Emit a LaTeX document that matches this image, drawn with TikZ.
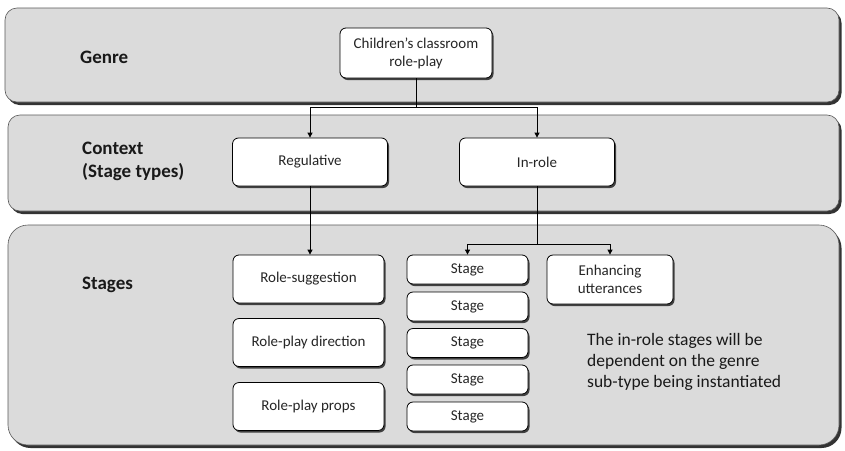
\documentclass[tikz,border=0pt]{standalone}
\usepackage{fontspec}
\setmainfont{Carlito}
\usetikzlibrary{shadows,arrows.meta}
\begin{document}
\begin{tikzpicture}[x=1pt,y=-1pt,
  band/.style={draw=gray!70!black, fill=gray!28, line width=0.6pt,
    drop shadow={shadow xshift=2.5pt, shadow yshift=-3pt, fill=black!80, opacity=1}},
  box/.style={draw=black, fill=white, rounded corners=6pt, line width=0.8pt,
    drop shadow={shadow xshift=1.5pt, shadow yshift=-2pt, fill=black!75, opacity=1},
    font=\fontsize{15}{18}\selectfont, align=center, inner sep=0pt, text=black!85},
  lab/.style={font=\fontsize{19}{23}\selectfont\bfseries, align=left, anchor=west, inner sep=0pt, text=black!90},
  conn/.style={draw=black, line width=0.8pt},
  arr/.style={conn, -{Triangle[length=5pt,width=5pt]}}]
\useasboundingbox (0,0) rectangle (845,450);
% bands
\path[band, rounded corners=12pt] (5,8) rectangle (839,102);
\path[band, rounded corners=12pt] (8,115) rectangle (839,211);
\path[band, rounded corners=20pt] (8,225) rectangle (839,445);
% band labels
\node[lab] (lgenre) at (80,57) {Genre};
\node[lab] (lcontext) at (82,161) {Context\\(Stage types)};
\node[lab] (lstages) at (82,285) {Stages};
% nodes
\node[box, minimum width=152pt, minimum height=50pt] (genre) at (416,53) {Children’s classroom\\role-play};
\node[box, minimum width=155pt, minimum height=48pt] (reg) at (310,162) {Regulative};
\node[box, minimum width=155pt, minimum height=48pt] (inrole) at (537,162) {In-role};
\node[box, minimum width=151pt, minimum height=48pt] (rs) at (308.5,279) {Role-suggestion};
\node[box, minimum width=151pt, minimum height=48pt] (rd) at (308.5,342.5) {Role-play direction};
\node[box, minimum width=151pt, minimum height=48pt] (rp) at (308.5,406.5) {Role-play props};
\foreach \i/\y in {1/269.5,2/306.5,3/343,4/379.5,5/416.5}{
  \node[box, minimum width=121pt, minimum height=29pt] (st\i) at (467.5,\y) {Stage};
}
\node[box, minimum width=126pt, minimum height=49pt] (enh) at (610,279.5) {Enhancing\\utterances};
\node[anchor=north west, align=left, inner sep=0pt, font=\fontsize{17.5}{21}\selectfont, text=black!90] (note) at (587,333)
  {The in-role stages will be\\dependent on the genre\\sub-type being instantiated};
% connectors
\coordinate (j1) at (416,107);
\draw[conn] (genre.south) -- (j1);
\draw[arr] (j1) -| (reg.north);
\draw[arr] (j1) -| (inrole.north);
\draw[arr] (reg.south) -- (reg.south |- rs.north);
\coordinate (j2) at (537,244);
\draw[conn] (inrole.south) -- (j2);
\draw[arr] (j2) -| (st1.north);
\draw[arr] (j2) -| (enh.north);
\end{tikzpicture}
\end{document}
